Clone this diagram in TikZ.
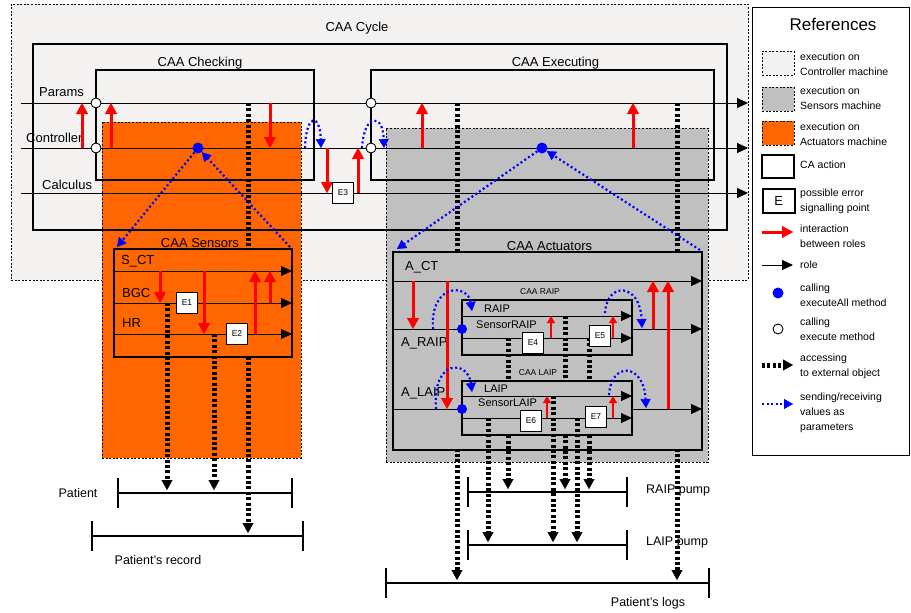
\documentclass[tikz,border=0pt]{standalone}
\usepackage{fontspec}
\setmainfont{Liberation Sans}
\usepackage{xcolor}
\usepackage{tikz}
\usetikzlibrary{positioning, arrows.meta}
\definecolor{ctrlgray}{HTML}{F4F1F1}
\definecolor{sensgray}{HTML}{C0C0C0}
\definecolor{actorange}{HTML}{FF6600}
\definecolor{callblue}{HTML}{0000FF}
\definecolor{interred}{HTML}{FF0000}

\tikzset{
  machine/.style={draw, line width=0.9pt, dash pattern=on 2pt off 1.6pt, inner sep=0pt, outer sep=0pt},
  caabox/.style={draw, line width=2pt, inner sep=0pt, outer sep=0pt},
  role/.style={line width=1pt, -{Triangle[length=11pt, width=10pt]}},
  roleline/.style={line width=1pt},
  interact/.style={interred, line width=3pt, -{Triangle[length=11pt, width=12pt, line width=0.4pt]}},
  smallinteract/.style={interred, line width=2pt, -{Triangle[length=7pt, width=8pt, line width=0.4pt]}},
  access/.style={line width=5pt, dash pattern=on 3pt off 2.4pt, shorten >=3pt,
    -{Triangle[length=10pt, width=11pt, line width=0.4pt]}},
  sendval/.style={callblue, line width=2.2pt, dash pattern=on 2pt off 2.6pt,
    -{Triangle[length=9pt, width=10pt, line width=0.4pt]}},
  timeline/.style={line width=1.6pt, {Bar[width=30pt]}-{Bar[width=30pt]}},
  errbox/.style={draw, line width=1.6pt, fill=white, minimum width=21pt, minimum height=21pt,
    inner sep=0pt, font=\fontsize{8.5}{9}\selectfont},
  execall/.style={circle, fill=callblue, minimum size=11pt, inner sep=0pt},
  execone/.style={circle, draw, fill=white, line width=0.9pt, minimum size=10pt, inner sep=0pt},
  lbl/.style={font=\fontsize{13}{15}\selectfont, inner sep=1pt},
  smalllbl/.style={font=\fontsize{11}{13}\selectfont, inner sep=1pt, anchor=west},
  tinylbl/.style={font=\fontsize{8.5}{10}\selectfont, inner sep=1pt},
  timelbl/.style={font=\fontsize{12.5}{15}\selectfont, inner sep=1pt},
  reftxt/.style={font=\fontsize{10.5}{15}\selectfont, align=left, anchor=west, inner sep=0pt},
}

\begin{document}
\begin{tikzpicture}[x=1pt, y=-1pt]
  \useasboundingbox (0,0) rectangle (911,613);

  % machines
  \node[machine, fill=ctrlgray, minimum width=737pt, minimum height=276pt, anchor=north west] (ctrlzone) at (11,4) {};
  \node[machine, fill=actorange, minimum width=199pt, minimum height=336pt, anchor=north west] (senszone) at (102,122) {};
  \node[machine, fill=sensgray, minimum width=322pt, minimum height=334pt, anchor=north west] (actzone) at (386,128) {};
  \node[lbl] (cyclelbl) at (357,28) {CAA Cycle};

  % CA actions of the cycle
  \node[caabox, minimum width=694pt, minimum height=186pt, anchor=north west] (cycle) at (33,44) {};
  \node[caabox, minimum width=218pt, minimum height=110pt, anchor=north west] (checking) at (96,70) {};
  \node[caabox, minimum width=343pt, minimum height=110pt, anchor=north west] (executing) at (371,70) {};
  \node[lbl, above=0pt of checking.north, xshift=-5pt] (checklbl) {CAA Checking};
  \node[lbl, above=0pt of executing.north, xshift=13pt] (execlbl) {CAA Executing};

  % roles of the cycle
  \coordinate (params) at (21,103);
  \coordinate (ctl) at (21,148);
  \coordinate (calc) at (21,193);
  \coordinate (rolesend) at (748,0);
  \draw[role] (params) -- (rolesend |- params);
  \draw[role] (ctl) -- (rolesend |- ctl);
  \draw[role] (calc) -- (rolesend |- calc);
  \node[lbl, anchor=west] (paramslbl) at (38,92) {Params};
  \node[lbl, anchor=west] (ctllbl) at (25,138) {Controller};
  \node[lbl, anchor=west] (calclbl) at (41,185) {Calculus};

  % external objects
  \coordinate (patA) at (117,493); \coordinate (patB) at (293,493);
  \coordinate (recA) at (91,536); \coordinate (recB) at (304,536);
  \coordinate (raippA) at (467,492); \coordinate (raippB) at (628,492);
  \coordinate (laippA) at (467,545); \coordinate (laippB) at (628,545);
  \coordinate (logsA) at (385,583); \coordinate (logsB) at (710,583);
  \draw[timeline] (patA) -- (patB);
  \draw[timeline] (recA) -- (recB);
  \draw[timeline] (raippA) -- (raippB);
  \draw[timeline] (laippA) -- (laippB);
  \draw[timeline] (logsA) -- (logsB);
  \node[timelbl] (patlbl) at (78,493) {Patient};
  \node[timelbl] (reclbl) at (158,560) {Patient's record};
  \node[timelbl, anchor=west] (raipplbl) at (645,490) {RAIP pump};
  \node[timelbl, anchor=west] (laipplbl) at (645,542) {LAIP pump};
  \node[timelbl] (logslbl) at (648,603) {Patient's logs};

  \draw[access] (248,0 |- params) -- (248,0 |- recA);
  \draw[access] (457,0 |- params) -- (457,0 |- logsA);
  \draw[access] (677,0 |- params) -- (677,0 |- logsA);

  % CAA Sensors
  \node[caabox, fill=actorange, minimum width=178pt, minimum height=108pt, anchor=north west] (sensors) at (114,249) {};
  \node[lbl, above=0pt of sensors.north, xshift=-3pt] (senslbl) {CAA Sensors};
  \coordinate (sct) at (114,271);
  \coordinate (bgc) at (114,303);
  \coordinate (hr) at (114,334);
  \draw[role] (sct) -- (sensors.east |- sct);
  \draw[role] (bgc) -- (sensors.east |- bgc);
  \draw[role] (hr) -- (sensors.east |- hr);
  \node[lbl, anchor=west] (sctlbl) at (120,261) {S\_CT};
  \node[lbl, anchor=west] (bgclbl) at (121,293) {BGC};
  \node[lbl, anchor=west] (hrlbl) at (121,323) {HR};
  \draw[access] (167,0 |- bgc) -- (167,0 |- patA);
  \draw[access] (214,0 |- hr) -- (214,0 |- patA);

  % CAA Actuators
  \node[caabox, fill=sensgray, minimum width=309pt, minimum height=198pt, anchor=north west] (actuators) at (393,252) {};
  \node[lbl, above=0pt of actuators.north, xshift=2pt] (actlbl) {CAA Actuators};
  \coordinate (act) at (393,281);
  \coordinate (araip) at (393,329);
  \coordinate (alaip) at (393,409);

  % CAA RAIP
  \node[caabox, fill=sensgray, minimum width=170pt, minimum height=55pt, anchor=north west] (raip) at (462,300) {};
  \node[tinylbl] (raipcaa) at (540,292) {CAA RAIP};
  \coordinate (raiprole) at (462,316);
  \coordinate (sraiprole) at (462,338);
  \draw[role] (raiprole) -- (raip.east |- raiprole);
  \draw[role] (sraiprole) -- (raip.east |- sraiprole);
  \node[smalllbl] (raiplbl) at (483,309) {RAIP};
  \node[smalllbl] (sraiplbl) at (475,325) {SensorRAIP};
  \draw[access] (508,0 |- sraiprole) -- (508,0 |- raippA);
  \draw[access] (565,0 |- raiprole) -- (565,0 |- raippA);
  \draw[access] (589,0 |- sraiprole) -- (589,0 |- raippA);

  % CAA LAIP
  \node[caabox, fill=sensgray, minimum width=170pt, minimum height=54pt, anchor=north west] (laip) at (462,381) {};
  \node[tinylbl] (laipcaa) at (538,373) {CAA LAIP};
  \coordinate (laiprole) at (462,396);
  \coordinate (slaiprole) at (462,418);
  \draw[role] (laiprole) -- (laip.east |- laiprole);
  \draw[role] (slaiprole) -- (laip.east |- slaiprole);
  \node[smalllbl] (laiplbl) at (483,389) {LAIP};
  \node[smalllbl] (slaiplbl) at (477,403) {SensorLAIP};
  \draw[access] (488,0 |- slaiprole) -- (488,0 |- laippA);
  \draw[access] (553,0 |- laiprole) -- (553,0 |- laippA);
  \draw[access] (577,0 |- slaiprole) -- (577,0 |- laippA);

  % roles of the actuators
  \draw[role] (act) -- (actuators.east |- act);
  \draw[roleline] (araip) -- (raip.west |- araip);
  \draw[role] (raip.east |- araip) -- (actuators.east |- araip);
  \draw[roleline] (alaip) -- (laip.west |- alaip);
  \draw[role] (laip.east |- alaip) -- (actuators.east |- alaip);
  \node[lbl, anchor=west] (actctlbl) at (404,267) {A\_CT};
  \node[lbl, anchor=west] (araiplbl) at (400,343) {A\_RAIP};
  \node[lbl, anchor=west] (alaiplbl) at (400,393) {A\_LAIP};

  % interactions between roles
  \draw[interact] (82,0 |- ctl) -- (82,0 |- params);
  \draw[interact] (111,0 |- ctl) -- (111,0 |- params);
  \draw[interact] (270,0 |- params) -- (270,0 |- ctl);
  \draw[interact] (327,0 |- ctl) -- (327,0 |- calc);
  \draw[interact] (358,0 |- calc) -- (358,0 |- ctl);
  \draw[interact] (422,0 |- ctl) -- (422,0 |- params);
  \draw[interact] (633,0 |- ctl) -- (633,0 |- params);
  \draw[interact] (160,0 |- sct) -- (160,0 |- bgc);
  \draw[interact] (204,0 |- sct) -- (204,0 |- hr);
  \draw[interact] (255,0 |- hr) -- (255,0 |- sct);
  \draw[interact] (270,0 |- bgc) -- (270,0 |- sct);
  \draw[interact] (413,0 |- act) -- (413,0 |- araip);
  \draw[interact] (447,0 |- act) -- (447,0 |- alaip);
  \draw[interact] (653,0 |- araip) -- (653,0 |- act);
  \draw[interact] (668,0 |- alaip) -- (668,0 |- act);
  \draw[smallinteract] (551,0 |- sraiprole) -- (551,0 |- raiprole);
  \draw[smallinteract] (613,0 |- sraiprole) -- (613,0 |- raiprole);
  \draw[smallinteract] (547,0 |- slaiprole) -- (547,0 |- laiprole);
  \draw[smallinteract] (613,0 |- slaiprole) -- (613,0 |- laiprole);

  % calls
  \node[execone] (chkpar) at (checking.west |- params) {};
  \node[execone] (chkctl) at (checking.west |- ctl) {};
  \node[execone] (exepar) at (executing.west |- params) {};
  \node[execone] (exectl) at (executing.west |- ctl) {};
  \node[execall] (chkall) at (198,0 |- ctl) {};
  \node[execall] (exeall) at (542,0 |- ctl) {};
  \node[execall, minimum size=10pt] (raipall) at (raip.west |- araip) {};
  \node[execall, minimum size=10pt] (laipall) at (laip.west |- alaip) {};

  % values as parameters
  \draw[sendval] (chkall) -- ([shift={(3,-2)}]sensors.north west);
  \draw[sendval] ([shift={(-2,-2)}]sensors.north east) -- (chkall);
  \draw[sendval] (exeall) -- ([shift={(4,-3)}]actuators.north west);
  \draw[sendval] ([shift={(-2,-2)}]actuators.north east) -- (exeall);
  \draw[sendval] (305,0 |- ctl) .. controls (306,113) and (320,113) .. (321,0 |- ctl);
  \draw[sendval] (362,0 |- ctl) .. controls (364,113) and (383,113) .. (384,0 |- ctl);
  \draw[sendval] (433,0 |- araip) .. controls (430,282) and (468,284) .. (472,311);
  \draw[sendval] (436,0 |- alaip) .. controls (432,358) and (468,360) .. (472,392);
  \draw[sendval] (605,313) .. controls (607,281) and (640,283) .. (642,328);
  \draw[sendval] (609,395) .. controls (611,361) and (644,363) .. (646,408);

  % error signalling points
  \node[errbox] (e1) at (187,0 |- bgc) {E1};
  \node[errbox] (e2) at (237,0 |- hr) {E2};
  \node[errbox] (e3) at (343,0 |- calc) {E3};
  \node[errbox] (e4) at (533,343) {E4};
  \node[errbox] (e5) at (600,336) {E5};
  \node[errbox] (e6) at (531,421) {E6};
  \node[errbox] (e7) at (596,417) {E7};

  % references
  \node[draw, line width=1pt, minimum width=157pt, minimum height=448pt, anchor=north west] (legend) at (752,7) {};
  \node[font=\fontsize{17}{20}\selectfont] (reftitle) at (833,24) {References};
  \node[machine, fill=ctrlgray, minimum width=32pt, minimum height=24pt, anchor=north west] (refctrl) at (762,51) {};
  \node[reftxt] at (800,64) {execution on\\Controller machine};
  \node[machine, fill=sensgray, minimum width=32pt, minimum height=24pt, anchor=north west] (refsens) at (762,87) {};
  \node[reftxt] at (800,98) {execution on\\Sensors machine};
  \node[machine, fill=actorange, minimum width=32pt, minimum height=24pt, anchor=north west] (refact) at (762,121) {};
  \node[reftxt] at (800,134) {execution on\\Actuators machine};
  \node[caabox, minimum width=32pt, minimum height=23pt, anchor=north west] (refca) at (762,155) {};
  \node[reftxt] at (800,165) {CA action};
  \node[errbox, minimum width=32pt, minimum height=24pt, font=\fontsize{13}{15}\selectfont, anchor=north west] (refe) at (762,188) {E};
  \node[reftxt] at (800,201) {possible error\\signalling point};
  \coordinate (refred) at (762,232);
  \draw[interact] (refred) -- ++(31,0);
  \node[reftxt] at (800,236) {interaction\\between roles};
  \coordinate (refrole) at (762,265);
  \draw[role] (refrole) -- ++(31,0);
  \node[reftxt] at (800,265) {role};
  \node[execall] (refall) at (778,293) {};
  \node[reftxt] at (800,295) {calling\\executeAll method};
  \node[execone] (refone) at (778,329) {};
  \node[reftxt] at (800,329) {calling\\execute method};
  \coordinate (refacc) at (762,365);
  \draw[access, shorten >=0pt] (refacc) -- ++(31,0);
  \node[reftxt] at (800,366) {accessing\\to external object};
  \coordinate (refval) at (762,404);
  \draw[sendval] (refval) -- ++(31,0);
  \node[reftxt] at (800,413) {sending/receiving\\values as\\parameters};
\end{tikzpicture}
\end{document}
